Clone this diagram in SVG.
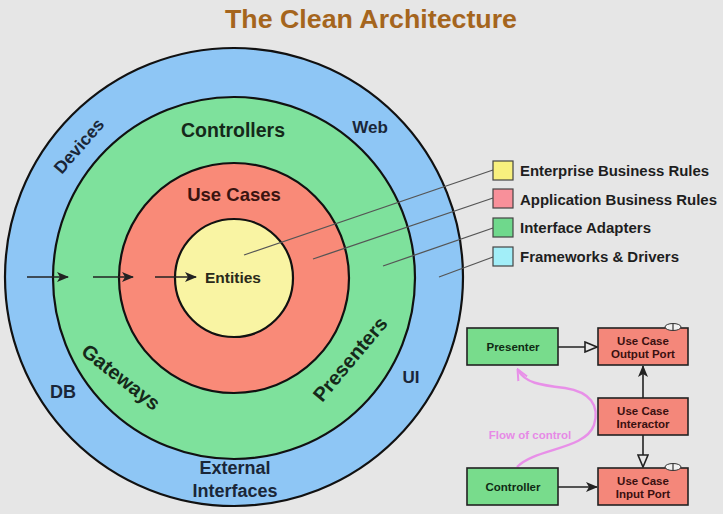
<svg xmlns="http://www.w3.org/2000/svg" width="723" height="514" viewBox="0 0 723 514">
<style>
.ring{stroke:#111;stroke-width:2.2}
.lbl{font-family:"Liberation Sans",Arial,sans-serif;font-weight:bold;text-anchor:middle}
.leg{font-family:"Liberation Sans",Arial,sans-serif;font-weight:bold;font-size:14px;fill:#1e1e1e}
.box{stroke:#222;stroke-width:1.6}
.bt{font-family:"Liberation Sans",Arial,sans-serif;font-weight:bold;font-size:11.5px;text-anchor:middle}
.conn{stroke:#222;stroke-width:1.6;fill:none}
.lline{stroke:#555;stroke-width:1.3;fill:none}
</style>
<defs>
<marker id="chev" markerWidth="12" markerHeight="10" refX="11" refY="5" orient="auto" markerUnits="userSpaceOnUse">
<path d="M0,0 L12,5 L0,10 L3,5 Z" fill="#222"/>
</marker>
<marker id="tri" markerWidth="14" markerHeight="12" refX="13" refY="6" orient="auto" markerUnits="userSpaceOnUse">
<path d="M1,1 L13,6 L1,11 Z" fill="#e8e8e8" stroke="#222" stroke-width="1.6"/>
</marker>
<marker id="pink" markerWidth="12" markerHeight="12" refX="10" refY="6" orient="auto" markerUnits="userSpaceOnUse">
<path d="M0,1 L11,6 L0,11" fill="none" stroke="#e890e8" stroke-width="2"/>
</marker>
</defs>
<rect x="0" y="0" width="723" height="514" fill="#e6e6e6"/>
<text x="225" y="28" font-family="'Liberation Sans',Arial,sans-serif" font-size="25" font-weight="bold" fill="#a5651d" textLength="292" lengthAdjust="spacingAndGlyphs">The Clean Architecture</text>

<g id="ring-frameworks">
<circle cx="234" cy="277" r="229" fill="#8ec6f5" class="ring"/>
<text class="lbl" x="370" y="133" font-size="17" fill="#1a2638">Web</text>
<text class="lbl" x="63" y="398" font-size="18" fill="#1a2638">DB</text>
<text class="lbl" x="411" y="383" font-size="17" fill="#1a2638">UI</text>
<text class="lbl" font-size="17.5" fill="#1a2638" transform="translate(79,146) rotate(-49)" y="6">Devices</text>
<text class="lbl" x="235" y="474" font-size="18" fill="#1a2638">External</text>
<text class="lbl" x="235" y="497" font-size="18" fill="#1a2638">Interfaces</text>
</g>
<g id="ring-adapters">
<circle cx="234" cy="278" r="181" fill="#7ee19c" class="ring"/>
<text class="lbl" x="233" y="137" font-size="19.5" fill="#15291a">Controllers</text>
<text class="lbl" font-size="20" fill="#15291a" transform="translate(121,377) rotate(38)" y="7">Gateways</text>
<text class="lbl" font-size="20" fill="#15291a" transform="translate(350,359) rotate(-50)" y="7">Presenters</text>
</g>
<g id="ring-usecases">
<circle cx="234" cy="278" r="115" fill="#f98a78" class="ring"/>
<text class="lbl" x="234" y="201" font-size="18.5" fill="#3a1410">Use Cases</text>
</g>
<g id="ring-entities">
<circle cx="234" cy="278" r="59" fill="#f9f4a3" class="ring"/>
<text class="lbl" x="233" y="283" font-size="15.5" fill="#2a2a1a">Entities</text>
</g>

<g id="connectors">
<line class="conn" x1="27" y1="277" x2="68" y2="277" marker-end="url(#chev)"/>
<line class="conn" x1="93" y1="277" x2="133" y2="277" marker-end="url(#chev)"/>
<line class="conn" x1="155" y1="277" x2="196" y2="277" marker-end="url(#chev)"/>
<line class="lline" x1="244" y1="255" x2="493" y2="170"/>
<line class="lline" x1="313" y1="259" x2="493" y2="198"/>
<line class="lline" x1="383" y1="266" x2="493" y2="228"/>
<line class="lline" x1="439" y1="277" x2="493" y2="257"/>
<line class="conn" x1="558" y1="347" x2="597" y2="347" marker-end="url(#tri)"/>
<line class="conn" x1="643" y1="398" x2="643" y2="366" marker-end="url(#chev)"/>
<line class="conn" x1="643" y1="435" x2="643" y2="467" marker-end="url(#tri)"/>
<line class="conn" x1="558" y1="487" x2="597" y2="487" marker-end="url(#chev)"/>
<path d="M517,467 C535,448 585,450 594,425 C600,405 590,392 565,388 C540,385 525,383 518,370" fill="none" stroke="#e890e8" stroke-width="2.4" marker-end="url(#pink)"/>
<text x="530" y="439" font-family="'Liberation Sans',Arial,sans-serif" font-weight="bold" font-size="11.5" fill="#e68ae6" text-anchor="middle">Flow of control</text>
</g>

<g id="legend-enterprise">
<rect x="493" y="161" width="20" height="19" fill="#f8f07e" stroke="#444" stroke-width="1.2"/>
<text class="leg" x="520" y="176" textLength="189" lengthAdjust="spacingAndGlyphs">Enterprise Business Rules</text>
</g>
<g id="legend-application">
<rect x="493" y="189" width="20" height="19" fill="#f8909a" stroke="#444" stroke-width="1.2"/>
<text class="leg" x="520" y="205" textLength="197" lengthAdjust="spacingAndGlyphs">Application Business Rules</text>
</g>
<g id="legend-adapters">
<rect x="493" y="218" width="20" height="19" fill="#6fd88c" stroke="#444" stroke-width="1.2"/>
<text class="leg" x="520" y="233" textLength="131" lengthAdjust="spacingAndGlyphs">Interface Adapters</text>
</g>
<g id="legend-frameworks">
<rect x="493" y="247" width="20" height="19" fill="#a2eef8" stroke="#444" stroke-width="1.2"/>
<text class="leg" x="520" y="262" textLength="159" lengthAdjust="spacingAndGlyphs">Frameworks &amp; Drivers</text>
</g>

<g id="presenter">
<rect class="box" x="467" y="328" width="91" height="37" fill="#78dc8c"/>
<text class="bt" x="513" y="351" fill="#102a14">Presenter</text>
</g>
<g id="output-port">
<rect class="box" x="598" y="328" width="90" height="37" fill="#f4877a"/>
<ellipse cx="673" cy="327" rx="8" ry="3.5" fill="#f2f2f2" stroke="#333" stroke-width="1"/>
<line x1="673" y1="324" x2="673" y2="330" stroke="#333" stroke-width="1.2"/>
<text class="bt" x="643" y="345" fill="#3a1010">Use Case</text>
<text class="bt" x="643" y="358" fill="#3a1010">Output Port</text>
</g>
<g id="interactor">
<rect class="box" x="598" y="398" width="90" height="37" fill="#f4877a"/>
<text class="bt" x="643" y="415" fill="#3a1010">Use Case</text>
<text class="bt" x="643" y="428" fill="#3a1010">Interactor</text>
</g>
<g id="input-port">
<rect class="box" x="598" y="468" width="90" height="37" fill="#f4877a"/>
<ellipse cx="673" cy="467" rx="8" ry="3.5" fill="#f2f2f2" stroke="#333" stroke-width="1"/>
<line x1="673" y1="464" x2="673" y2="470" stroke="#333" stroke-width="1.2"/>
<text class="bt" x="643" y="485" fill="#3a1010">Use Case</text>
<text class="bt" x="643" y="498" fill="#3a1010">Input Port</text>
</g>
<g id="controller">
<rect class="box" x="467" y="468" width="91" height="37" fill="#78dc8c"/>
<text class="bt" x="513" y="491" fill="#102a14">Controller</text>
</g>
</svg>
